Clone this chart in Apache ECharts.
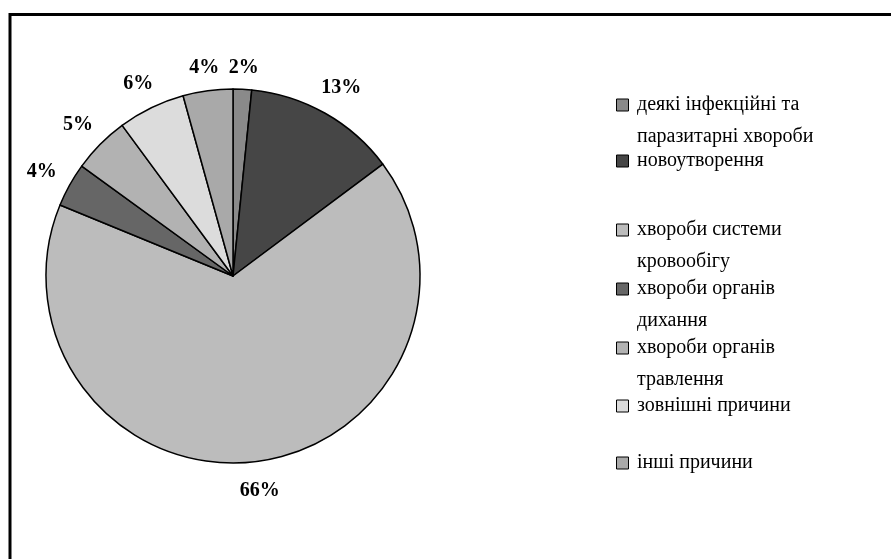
<!DOCTYPE html>
<html>
<head>
<meta charset="utf-8">
<script src="https://cdn.jsdelivr.net/npm/echarts@6/dist/echarts.min.js"></script>
<style>
  html, body { margin: 0; padding: 0; background: #fff; }
  #main { width: 891px; height: 559px; }
</style>
</head>
<body>
<div id="main"></div>
<script>
// categories (legend text, \n where the original wraps)
var categories = [
  'деякі інфекційні та\nпаразитарні хвороби',
  'новоутворення',
  'хвороби системи\nкровообігу',
  'хвороби органів\nдихання',
  'хвороби органів\nтравлення',
  'зовнішні причини',
  'інші причини'
];
// shares, %
var shares = [1.6, 13.2, 66.4, 3.8, 4.9, 5.8, 4.3];
var colors = ['#8a8a8a', '#464646', '#bcbcbc', '#666666', '#b2b2b2', '#dcdcdc', '#a9a9a9'];

var cx = 233, cy = 276, R = 187;
var total = shares.reduce(function (a, b) { return a + b; }, 0);

var chart = echarts.init(document.getElementById('main'), null, { renderer: 'canvas' });

// one legend per entry, so each sits where the original put it
// (y of the first text line)
var legendLineY = [105, 161, 230, 289, 348, 406, 463];
var legends = categories.map(function (name, i) {
  var twoLines = name.indexOf('\n') >= 0;
  return {
    orient: 'vertical',
    left: 616,
    top: twoLines ? legendLineY[i] - 48 : legendLineY[i] - 16,
    padding: 0,
    itemWidth: 19,
    itemHeight: 12,
    itemGap: 0,
    icon: 'path://M0,0H10V10H0Z',
    selectedMode: false,
    data: [name],
    // empty first line so the marker lines up with the first text line
    formatter: function (n) { return twoLines ? '\n' + n : n; },
    itemStyle: { borderColor: '#000', borderWidth: 1 },
    textStyle: {
      fontFamily: 'Liberation Serif',
      fontSize: 20,
      color: '#000',
      lineHeight: 32
    }
  };
});

function labelPos(params) {
  var i = params.dataIndex;
  var before = 0;
  for (var k = 0; k < i; k++) before += shares[k];
  var a = (before + shares[i] / 2) / total * Math.PI * 2;
  var dx = Math.sin(a), dy = -Math.cos(a);
  var w = params.labelRect.width, h = params.labelRect.height;
  var d = R + 14 + Math.abs(dx) * w / 2 + Math.abs(dy) * h / 2;
  return {
    x: cx + dx * d,
    y: cy + dy * d + 3,
    align: 'center',
    verticalAlign: 'middle'
  };
}

var option = {
  backgroundColor: '#fff',
  animation: false,
  color: colors,
  legend: legends,
  graphic: [{
    type: 'rect',
    shape: { x: 10, y: 14.5, width: 1000, height: 1000 },
    style: { fill: 'none', stroke: '#000', lineWidth: 3 },
    silent: true
  }],
  series: [{
    type: 'pie',
    center: [cx, cy],
    radius: R,
    startAngle: 90,
    clockwise: true,
    avoidLabelOverlap: false,
    percentPrecision: 0,
    itemStyle: { borderColor: '#000', borderWidth: 1.5 },
    label: {
      show: true,
      position: 'outside',
      formatter: '{d}%',
      fontFamily: 'Liberation Serif',
      fontSize: 20,
      fontWeight: 'bold',
      color: '#000'
    },
    labelLine: { show: false },
    labelLayout: labelPos,
    emphasis: { disabled: true },
    data: categories.map(function (name, i) {
      return { name: name, value: shares[i] };
    })
  }]
};

chart.setOption(option);
</script>
</body>
</html>
